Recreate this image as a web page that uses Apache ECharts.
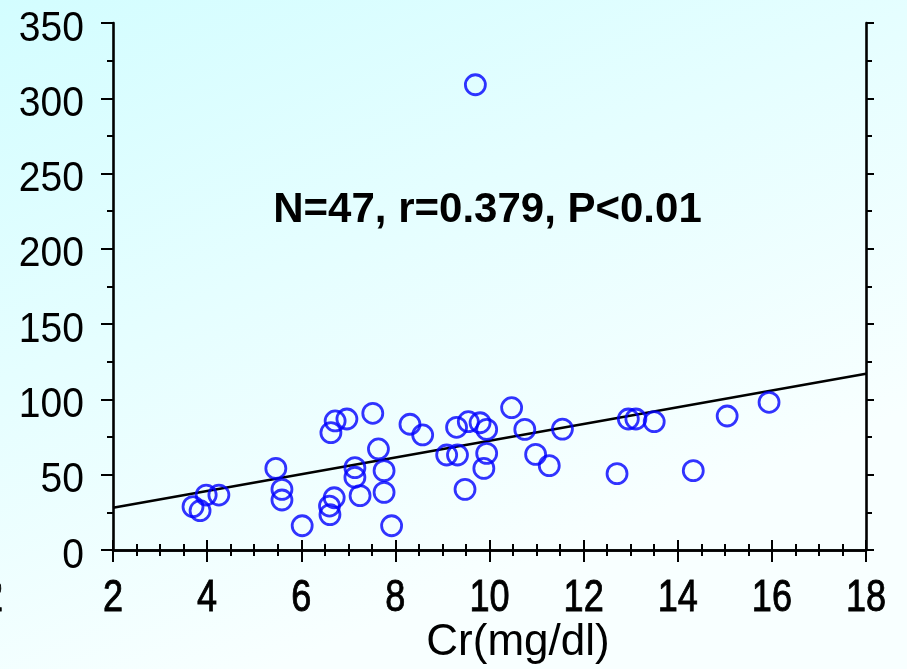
<!DOCTYPE html>
<html>
<head>
<meta charset="utf-8">
<script src="https://cdn.jsdelivr.net/npm/echarts@6/dist/echarts.min.js"></script>
<style>
html,body{margin:0;padding:0;}
#c{width:907px;height:669px;}
</style>
</head>
<body>
<div id="c"></div>
<script>
// Data
var crValues = [9.70, 3.70, 3.85, 3.98, 4.25, 5.46, 5.59, 5.59, 6.02, 6.60, 6.61, 6.70, 6.63, 6.72, 6.97, 7.14, 7.14, 7.25, 7.52, 7.64, 7.76, 7.76, 7.92, 8.31, 8.58, 9.09, 9.32, 9.30, 9.55, 9.48, 9.80, 9.94, 9.94, 9.88, 10.47, 10.75, 10.98, 11.27, 11.55, 12.71, 12.95, 13.11, 13.50, 14.33, 15.05, 15.94];
var yValues  = [309, 28.8, 26.1, 36.5, 36.5, 54.2, 40.3, 33.2, 16.1, 29.2, 23.5, 34.7, 77.9, 85.7, 87.0, 54.7, 48.3, 36.1, 90.8, 67.1, 52.7, 38.3, 16.1, 83.5, 76.4, 63.1, 63.1, 81.5, 85.2, 40.3, 84.5, 80.1, 64.2, 54.2, 94.5, 80.1, 63.5, 56.0, 80.3, 50.7, 87.0, 87.0, 85.2, 52.7, 89.0, 98.1];
var fitX = [2, 18];
var fitY = [28, 117];
var xTicks = [2, 4, 6, 8, 10, 12, 14, 16, 18];
var yTicks = [0, 50, 100, 150, 200, 250, 300, 350];
var statText = 'N=47, r=0.379, P<0.01';
var xName = 'Cr(mg/dl)';

var points = crValues.map(function (x, i) { return [x, yValues[i]]; });
var fitLine = fitX.map(function (x, i) { return [x, fitY[i]]; });

var chart = echarts.init(document.getElementById('c'), null, {renderer: 'canvas'});

var axisLine = {show: true, lineStyle: {color: '#000', width: 2.6}};
var tickMajor = {show: true, inside: false, length: 12, lineStyle: {color: '#000', width: 2}};
var tickMinorY = {show: true, splitNumber: 2, length: 6, lineStyle: {color: '#000', width: 2}};
var tickMinorX = {show: true, splitNumber: 4, length: 6, lineStyle: {color: '#000', width: 2}};

chart.setOption({
  animation: false,
  backgroundColor: {
    type: 'linear', x: 0, y: 0, x2: 0.3, y2: 1,
    colorStops: [{offset: 0, color: '#d3fdff'}, {offset: 1, color: '#f8ffff'}]
  },
  grid: {left: 113, right: 41, top: 23, bottom: 119, containLabel: false},
  xAxis: [{
    type: 'value', min: xTicks[0], max: xTicks[xTicks.length - 1], interval: 2,
    position: 'bottom',
    axisLine: axisLine, axisTick: tickMajor, minorTick: tickMinorX,
    splitLine: {show: false}, axisLabel: {show: false}
  }, {
    type: 'value', min: xTicks[0], max: xTicks[xTicks.length - 1], interval: 2,
    position: 'top',
    axisLine: axisLine, axisTick: {show: true, length: 10, lineStyle: {color: '#000', width: 2}},
    minorTick: tickMinorX, splitLine: {show: false}, axisLabel: {show: false}
  }],
  yAxis: [{
    type: 'value', min: yTicks[0], max: yTicks[yTicks.length - 1], interval: 50,
    position: 'left',
    axisLine: axisLine, axisTick: tickMajor, minorTick: tickMinorY,
    splitLine: {show: false}, axisLabel: {show: false}
  }, {
    type: 'value', min: yTicks[0], max: yTicks[yTicks.length - 1], interval: 50,
    position: 'right',
    axisLine: axisLine, axisTick: {show: true, length: 8, lineStyle: {color: '#000', width: 2}},
    minorTick: tickMinorY, splitLine: {show: false}, axisLabel: {show: false}
  }],
  series: [{
    type: 'line', data: fitLine, xAxisIndex: 0, yAxisIndex: 0,
    showSymbol: false, symbol: 'none', lineStyle: {color: '#000', width: 2.5}, z: 1
  }, {
    type: 'scatter', data: points, xAxisIndex: 0, yAxisIndex: 0,
    symbol: 'circle', symbolSize: 20,
    itemStyle: {color: 'rgba(0,0,0,0)', borderColor: '#0000ff', borderWidth: 2.8}, z: 2
  }]
});

// Tick labels and names placed through the axes' own scales (condensed look via scaleX)
var graphics = [];
var axisY0 = chart.convertToPixel({yAxisIndex: 0}, yTicks[0]);
var axisX0 = chart.convertToPixel({xAxisIndex: 0}, xTicks[0]);

var labelFont = '44px "Liberation Sans", Arial, sans-serif';

yTicks.forEach(function (v) {
  var py = chart.convertToPixel({yAxisIndex: 0}, v);
  graphics.push({
    type: 'text', x: axisX0 - 29, y: py + 6, scaleX: 0.93, z: 100,
    style: {text: String(v), fill: '#000', font: '42px "Liberation Sans", Arial, sans-serif',
      align: 'right', verticalAlign: 'middle'}
  });
});
xTicks.forEach(function (v) {
  var px = chart.convertToPixel({xAxisIndex: 0}, v);
  graphics.push({
    type: 'text', x: px, y: axisY0 + 49, scaleX: 0.82, z: 100,
    style: {text: String(v), fill: '#000', stroke: '#000', lineWidth: 0.9, font: labelFont,
      align: 'center', verticalAlign: 'middle'}
  });
});
// clipped label at the far left edge, as in the reference
graphics.push({
  type: 'text', x: 3, y: axisY0 + 49, scaleX: 0.82, z: 100,
  style: {text: String(xTicks[0]), fill: '#000', stroke: '#000', lineWidth: 0.9, font: labelFont,
    align: 'right', verticalAlign: 'middle'}
});
graphics.push({
  type: 'text', x: 518, y: axisY0 + 93, z: 100,
  style: {text: xName, fill: '#000', font: labelFont,
    align: 'center', verticalAlign: 'middle'}
});
graphics.push({
  type: 'text', x: 487.5, y: 210, z: 100,
  style: {text: statText, fill: '#000', font: 'bold 42px "Liberation Sans", Arial, sans-serif',
    align: 'center', verticalAlign: 'middle'}
});

chart.setOption({graphic: graphics});
</script>
</body>
</html>
